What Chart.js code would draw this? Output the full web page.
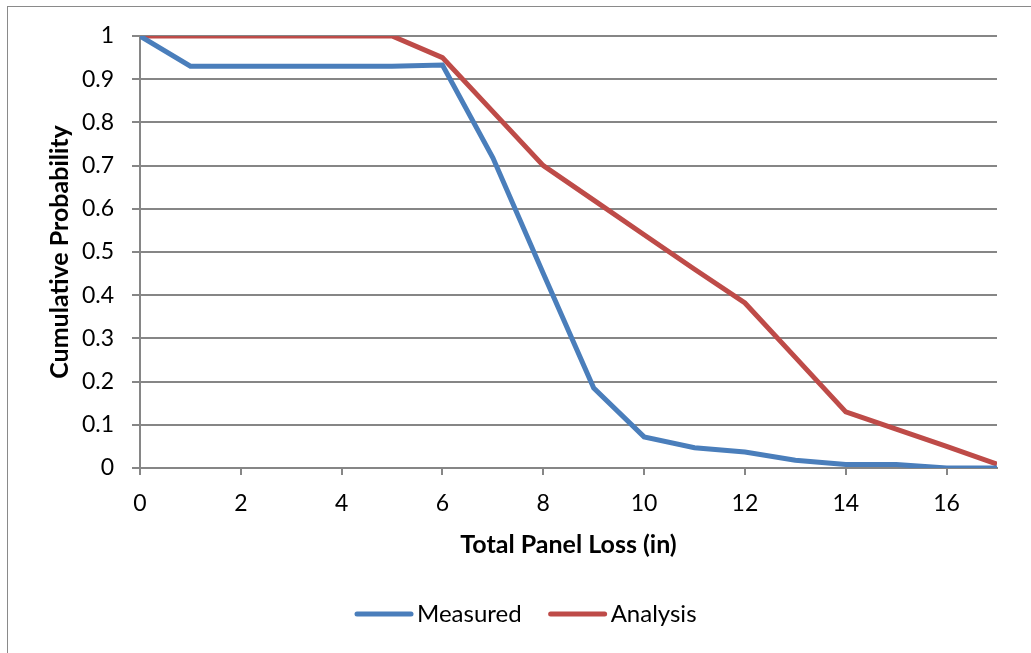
<!DOCTYPE html>
<html>
<head>
<meta charset="utf-8">
<script src="https://cdn.jsdelivr.net/npm/chart.js@4"></script>
<style>
  html, body { margin: 0; padding: 0; background: #fff; overflow: hidden; }
  #wrap { position: absolute; left: 0; top: 0; width: 1031px; height: 653px; }
</style>
</head>
<body>
<div id="wrap"><canvas id="chart" width="1031" height="653"></canvas></div>
<script>
// donnees
const panelLoss = [0, 1, 2, 3, 4, 5, 6, 7, 8, 9, 10, 11, 12, 13, 14, 15, 16, 17];
const measured = [1, 0.93, 0.93, 0.93, 0.93, 0.93, 0.933, 0.718, 0.45, 0.185, 0.072, 0.047, 0.037, 0.018, 0.008, 0.008, 0, 0];
const analysis = [1, 1, 1, 1, 1, 1, 0.95, 0.825, 0.70, 0.62, 0.54, 0.46, 0.382, 0.256, 0.13, 0.09, 0.05, 0.009];
const xTicks = [0, 2, 4, 6, 8, 10, 12, 14, 16];
const yTicks = [0, 0.1, 0.2, 0.3, 0.4, 0.5, 0.6, 0.7, 0.8, 0.9, 1];

const fontFamily = 'Lato, "Open Sans", sans-serif';
const gridColor = '#868686';

function toPoints(values) {
    return panelLoss.map((x, i) => ({ x: x, y: values[i] }));
}

// cadre gris autour du graphique
const framePlugin = {
    id: 'frame',
    beforeDraw(chart) {
        const ctx = chart.ctx;
        ctx.save();
        ctx.fillStyle = '#fff';
        ctx.fillRect(0, 0, chart.width, chart.height);
        ctx.strokeStyle = '#8a8a8a';
        ctx.lineWidth = 1;
        ctx.strokeRect(7.5, 6.5, 1100, 700);
        ctx.restore();
    }
};

// legende dessinee a la main (trait court + texte colle)
const legendPlugin = {
    id: 'simpleLegend',
    afterDraw(chart) {
        const ctx = chart.ctx;
        const y = 614;
        let x = 357;
        ctx.save();
        ctx.font = '24px ' + fontFamily;
        ctx.textBaseline = 'middle';
        ctx.lineCap = 'round';
        chart.data.datasets.forEach(ds => {
            ctx.strokeStyle = ds.borderColor;
            ctx.lineWidth = 5;
            ctx.beginPath();
            ctx.moveTo(x, y);
            ctx.lineTo(x + 54, y);
            ctx.stroke();
            x += 60;
            ctx.fillStyle = '#000';
            ctx.fillText(ds.label, x, y);
            x += ctx.measureText(ds.label).width + 29;
        });
        ctx.restore();
    }
};

const ctx = document.getElementById('chart').getContext('2d');
const chart = new Chart(ctx, {
    type: 'line',
    data: {
        datasets: [
            {
                label: 'Measured',
                data: toPoints(measured),
                borderColor: '#4a7ebb',
                backgroundColor: '#4a7ebb',
                borderWidth: 5,
                pointRadius: 0,
                fill: false,
                tension: 0
            },
            {
                label: 'Analysis',
                data: toPoints(analysis),
                borderColor: '#be4b48',
                backgroundColor: '#be4b48',
                borderWidth: 5,
                pointRadius: 0,
                fill: false,
                tension: 0
            }
        ]
    },
    options: {
        responsive: false,
        animation: false,
        layout: { padding: { left: 0, right: 34, top: 36, bottom: 63 } },
        plugins: {
            tooltip: { enabled: false },
            legend: { display: false }
        },
        scales: {
            x: {
                type: 'linear',
                min: 0,
                max: 17,
                afterBuildTicks(scale) {
                    scale.ticks = xTicks.map(v => ({ value: v }));
                },
                afterFit(scale) { scale.height = 122; },
                ticks: {
                    color: '#000',
                    font: { family: fontFamily, size: 23 },
                    padding: 15,
                    maxRotation: 0
                },
                grid: {
                    drawOnChartArea: false,
                    drawTicks: true,
                    tickLength: 7,
                    color: gridColor,
                    lineWidth: 2
                },
                border: { color: gridColor, width: 2 },
                title: {
                    display: true,
                    text: 'Total Panel Loss (in)',
                    color: '#000',
                    font: { family: fontFamily, size: 25, weight: 'bold' },
                    padding: { top: 0, bottom: 30 }
                }
            },
            y: {
                min: 0,
                max: 1,
                afterBuildTicks(scale) {
                    scale.ticks = yTicks.map(v => ({ value: v }));
                },
                afterFit(scale) { scale.width = 140; },
                ticks: {
                    color: '#000',
                    font: { family: fontFamily, size: 23 },
                    padding: 18,
                    callback: v => String(Math.round(v * 10) / 10)
                },
                grid: {
                    color: gridColor,
                    lineWidth: 2,
                    tickLength: 8
                },
                border: { color: gridColor, width: 2 },
                title: {
                    display: true,
                    text: 'Cumulative Probability',
                    color: '#000',
                    font: { family: fontFamily, size: 25, weight: 'bold' },
                    padding: { top: 45, bottom: 0 }
                }
            }
        }
    },
    plugins: [framePlugin, legendPlugin]
});
</script>
</body>
</html>
